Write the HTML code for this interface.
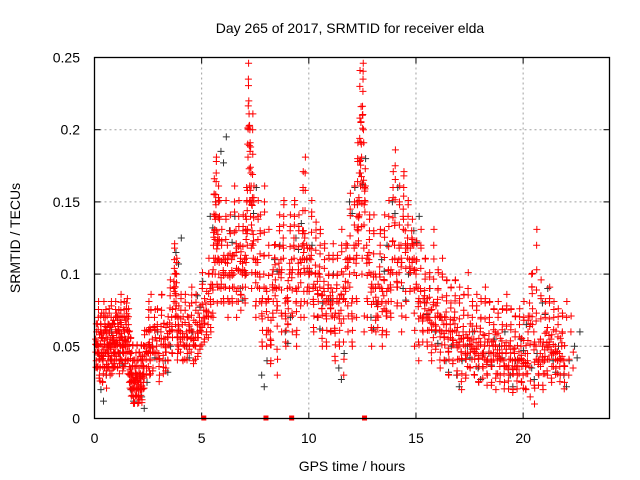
<!DOCTYPE html>
<html><head><meta charset="utf-8"><style>
body{margin:0;background:#fff}
svg{display:block;font-family:"Liberation Sans",sans-serif}
</style></head><body>
<svg id="c" width="640" height="480">
<text x="350" y="33" font-size="14" text-anchor="middle">Day 265 of 2017, SRMTID for receiver elda</text>
<text x="352" y="471" font-size="14" text-anchor="middle">GPS time / hours</text>
<text transform="translate(20,238) rotate(-90)" font-size="14" text-anchor="middle">SRMTID / TECUs</text>
<g id="grid"></g>
<g id="ticks"></g>
<g id="black"></g>
<g id="red"></g>
<rect x="94.5" y="57.5" width="515" height="361" fill="none" stroke="#000" stroke-width="1.3"/>
</svg>
<script>
const xTicks=[0,5,10,15,20];
const yTicks=[0,0.05,0.1,0.15,0.2,0.25];
const yTickLabels=["0","0.05","0.1","0.15","0.2","0.25"];
const redT=[0.05,0.1,0.15,0.2,0.25,0.3,0.35,0.4,0.45,0.5,0.55,0.6,0.65,0.7,0.75,0.8,0.85,0.9,0.95,1.0,1.05,1.1,1.15,1.2,1.25,1.3,1.35,1.4,1.45,1.5,1.55,1.6,1.65,1.7,1.75,1.8,1.85,1.9,1.95,2.0,2.05,2.1,2.15,2.2,2.25,2.3,2.4,2.5,2.55,2.6,2.7,2.8,2.9,3.0,3.1,3.2,3.3,3.4,3.5,3.6,3.7,3.75,3.8,3.85,3.9,4.0,4.1,4.2,4.3,4.4,4.5,4.6,4.7,4.8,4.9,5.0,5.1,5.2,5.3,5.4,5.5,5.55,5.6,5.65,5.7,5.75,5.8,5.9,6.0,6.1,6.2,6.3,6.4,6.5,6.6,6.7,6.8,6.9,7.0,7.05,7.1,7.15,7.2,7.25,7.3,7.35,7.4,7.5,7.6,7.7,7.8,7.9,8.0,8.1,8.2,8.3,8.4,8.5,8.6,8.7,8.8,8.9,9.0,9.1,9.2,9.3,9.4,9.5,9.6,9.7,9.75,9.8,9.9,10.0,10.1,10.2,10.3,10.4,10.5,10.6,10.7,10.8,10.9,11.0,11.1,11.2,11.3,11.4,11.5,11.6,11.7,11.8,11.9,12.0,12.1,12.2,12.25,12.3,12.35,12.4,12.45,12.5,12.55,12.6,12.7,12.8,12.9,13.0,13.1,13.2,13.3,13.4,13.5,13.6,13.7,13.8,13.9,14.0,14.1,14.2,14.3,14.4,14.5,14.6,14.7,14.8,14.9,15.0,15.1,15.2,15.3,15.4,15.5,15.6,15.7,15.8,15.9,16.0,16.1,16.2,16.3,16.4,16.5,16.6,16.7,16.8,16.9,17.0,17.1,17.2,17.3,17.4,17.5,17.6,17.7,17.8,17.9,18.0,18.1,18.2,18.3,18.4,18.5,18.6,18.7,18.8,18.9,19.0,19.1,19.2,19.3,19.4,19.5,19.6,19.7,19.8,19.9,20.0,20.1,20.2,20.3,20.4,20.5,20.6,20.7,20.8,20.9,21.0,21.1,21.2,21.3,21.4,21.5,21.6,21.7,21.8,21.9,22.0,22.1,22.2,22.3,22.4,22.5,22.6,22.7,22.8,22.9];
const redA=[0.055,0.06,0.045,0.05,0.035,0.065,0.05,0.04,0.06,0.07,0.03,0.055,0.045,0.06,0.05,0.04,0.065,0.055,0.045,0.05,0.06,0.07,0.04,0.05,0.065,0.055,0.045,0.06,0.05,0.08,0.04,0.06,0.03,0.035,0.025,0.03,0.02,0.035,0.025,0.03,0.02,0.03,0.025,0.02,0.04,0.03,0.05,0.045,0.06,0.04,0.055,0.07,0.05,0.045,0.06,0.04,0.055,0.065,0.06,0.07,0.09,0.1,0.08,0.06,0.07,0.055,0.065,0.05,0.06,0.07,0.055,0.06,0.05,0.065,0.07,0.06,0.075,0.08,0.065,0.09,0.1,0.12,0.14,0.15,0.13,0.12,0.1,0.09,0.11,0.1,0.12,0.09,0.11,0.1,0.13,0.09,0.12,0.1,0.11,0.14,0.16,0.19,0.22,0.2,0.17,0.13,0.12,0.11,0.1,0.09,0.08,0.1,0.09,0.07,0.06,0.1,0.12,0.09,0.1,0.11,0.12,0.08,0.09,0.1,0.11,0.12,0.09,0.1,0.11,0.12,0.13,0.11,0.12,0.1,0.11,0.09,0.1,0.095,0.1,0.085,0.09,0.08,0.09,0.085,0.08,0.07,0.09,0.08,0.075,0.1,0.09,0.12,0.1,0.08,0.11,0.12,0.14,0.13,0.15,0.17,0.19,0.21,0.2,0.16,0.12,0.11,0.1,0.09,0.1,0.08,0.1,0.09,0.085,0.08,0.09,0.1,0.11,0.12,0.1,0.11,0.12,0.14,0.13,0.12,0.11,0.13,0.12,0.1,0.09,0.08,0.07,0.085,0.08,0.07,0.075,0.065,0.07,0.08,0.07,0.06,0.065,0.07,0.055,0.065,0.06,0.07,0.06,0.05,0.055,0.06,0.05,0.045,0.06,0.05,0.055,0.045,0.05,0.06,0.045,0.05,0.04,0.055,0.045,0.05,0.06,0.04,0.045,0.05,0.04,0.045,0.035,0.05,0.04,0.045,0.035,0.04,0.05,0.03,0.045,0.04,0.08,0.1,0.06,0.05,0.04,0.045,0.05,0.04,0.06,0.05,0.055,0.045,0.05,0.04,0.045,0.05,0.04];
const redB=[0.04,0.035,0.07,0.03,0.06,0.045,0.025,0.07,0.035,0.045,0.06,0.04,0.065,0.03,0.07,0.055,0.035,0.04,0.07,0.06,0.035,0.045,0.06,0.075,0.04,0.035,0.07,0.04,0.065,0.05,0.065,0.025,0.045,0.02,0.04,0.015,0.025,0.02,0.04,0.015,0.035,0.02,0.04,0.03,0.025,0.05,0.035,0.07,0.03,0.075,0.035,0.045,0.065,0.03,0.075,0.055,0.035,0.04,0.085,0.045,0.11,0.065,0.1,0.045,0.05,0.075,0.04,0.075,0.045,0.05,0.08,0.04,0.075,0.045,0.05,0.09,0.055,0.06,0.1,0.06,0.07,0.155,0.1,0.17,0.08,0.15,0.14,0.12,0.08,0.14,0.07,0.13,0.08,0.15,0.07,0.14,0.075,0.13,0.08,0.1,0.12,0.235,0.15,0.14,0.09,0.2,0.15,0.07,0.14,0.13,0.05,0.15,0.05,0.12,0.04,0.07,0.085,0.03,0.13,0.06,0.14,0.05,0.065,0.13,0.06,0.14,0.05,0.13,0.07,0.16,0.07,0.17,0.08,0.1,0.14,0.06,0.125,0.07,0.12,0.05,0.11,0.05,0.1,0.06,0.11,0.04,0.1,0.05,0.12,0.03,0.11,0.06,0.145,0.05,0.15,0.07,0.18,0.14,0.23,0.205,0.1,0.235,0.06,0.15,0.07,0.13,0.05,0.13,0.06,0.07,0.12,0.05,0.13,0.06,0.14,0.07,0.16,0.175,0.08,0.15,0.06,0.16,0.07,0.14,0.09,0.11,0.05,0.11,0.04,0.12,0.06,0.1,0.05,0.09,0.04,0.12,0.05,0.09,0.035,0.1,0.04,0.085,0.03,0.08,0.04,0.085,0.03,0.08,0.02,0.075,0.03,0.09,0.035,0.07,0.03,0.075,0.025,0.07,0.035,0.08,0.03,0.07,0.025,0.065,0.02,0.07,0.03,0.065,0.025,0.075,0.03,0.065,0.02,0.06,0.03,0.065,0.025,0.07,0.02,0.06,0.015,0.065,0.01,0.12,0.03,0.085,0.02,0.07,0.03,0.08,0.025,0.07,0.035,0.065,0.03,0.06,0.025,0.07,0.03,0.06,0.035];
const blackT=[0.3,0.8,1.2,1.7,2.2,2.7,3.3,3.8,4.3,4.8,5.4,5.9,6.3,6.8,7.3,7.8,8.4,8.9,9.4,9.9,10.4,10.9,11.4,11.9,12.4,12.9,13.4,13.9,14.4,14.9,15.4,15.9,16.4,16.9,17.4,17.9,18.4,18.9,19.4,19.9,20.4,20.9,21.4,21.9,22.4];
const blackV=[0.02,0.06,0.045,0.02,0.015,0.05,0.04,0.115,0.05,0.085,0.14,0.185,0.13,0.09,0.15,0.03,0.11,0.06,0.125,0.11,0.07,0.09,0.035,0.15,0.17,0.07,0.11,0.15,0.09,0.13,0.08,0.06,0.04,0.03,0.05,0.035,0.045,0.05,0.03,0.055,0.035,0.08,0.04,0.03,0.05];
const squareT=[5.1,8.0,9.2,12.6];
const X0=94.5,X1=609.5,Y0=418.5,Y1=57.5,XMAX=24.03,YMAX=0.25;
const sx=v=>X0+v/XMAX*(X1-X0);
const sy=v=>Y0-v/YMAX*(Y0-Y1);
const NS='http://www.w3.org/2000/svg';
function mk(tag,attrs,parent){const e=document.createElementNS(NS,tag);for(const k in attrs)e.setAttribute(k,attrs[k]);parent.appendChild(e);return e;}
const grid=document.getElementById('grid'),ticks=document.getElementById('ticks');
xTicks.forEach(t=>{const x=sx(t);
 if(t>0){const g=mk('line',{x1:x,x2:x,y1:Y1,y2:Y0,stroke:'#a0a0a0','stroke-dasharray':'2,3'},grid);
 
 }
 mk('line',{x1:x,x2:x,y1:Y0,y2:Y0-6,stroke:'#000'},ticks);
 mk('line',{x1:x,x2:x,y1:Y1,y2:Y1+6,stroke:'#000'},ticks);
 const l=mk('text',{x:x,y:443,'font-size':14,'text-anchor':'middle'},ticks);l.textContent=t;
 
 });
yTicks.forEach((t,i)=>{const y=sy(t);
 if(t>0&&t<0.25){const g=mk('line',{x1:X0,x2:X1,y1:y,y2:y,stroke:'#a0a0a0','stroke-dasharray':'2,3'},grid);
 
 }
 mk('line',{x1:X0,x2:X0+6,y1:y,y2:y,stroke:'#000'},ticks);
 mk('line',{x1:X1,x2:X1-6,y1:y,y2:y,stroke:'#000'},ticks);
 const l=mk('text',{x:80,y:y+5,'font-size':14,'text-anchor':'end'},ticks);l.textContent=yTickLabels[i];
 
 });
function plus(g,t,v,col){if(t===undefined||v===undefined)return;const x=sx(t),y=sy(v);
 const p=mk('path',{d:`M${x-3.5},${y}H${x+3.5}M${x},${y-3.5}V${y+3.5}`,stroke:col,'stroke-width':1,fill:'none'},g);
 
 }
const bg=document.getElementById('black'),rg=document.getElementById('red');
blackT.forEach((t,i)=>{plus(bg,t,blackV[i],'#333');plus(bg,t+0.25,blackV[i]+0.01,'#333');plus(bg,t+0.12,blackV[i]-0.008,'#333');});
redT.forEach((t,i)=>{const a=redA[i],b=redB[i];
 plus(rg,t,a,'#f00');plus(rg,t+0.03,b,'#f00');plus(rg,t+0.025,(a+b)/2+0.004,'#f00');
 plus(rg,t+0.012,a-0.009,'#f00');plus(rg,t+0.04,b+0.011,'#f00');plus(rg,t+0.018,(a+b)/2-0.012,'#f00');
 plus(rg,t+0.035,a*0.5+b*0.5+0.018,'#f00');plus(rg,t+0.007,a*0.75+b*0.25,'#f00');});
squareT.forEach(t=>{const r=mk('rect',{x:sx(t)-2.5,y:Y0-3,width:5,height:5,fill:'#f00'},rg);
 
 });
</script>
</body></html>
